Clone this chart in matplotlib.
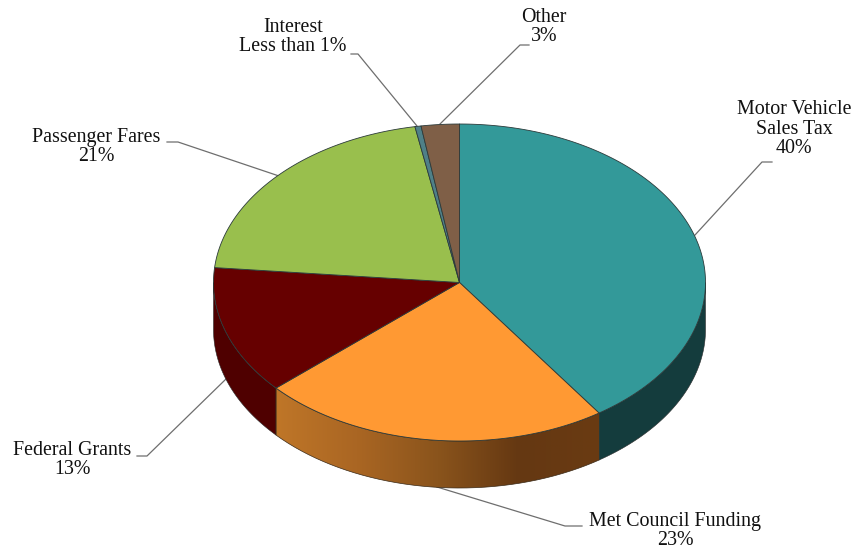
#!/usr/bin/env python
#coding:utf-8

import numpy as np
import matplotlib
matplotlib.use("Agg")
from matplotlib import pyplot as plt
from matplotlib.colors import LinearSegmentedColormap
from matplotlib.patches import Polygon

# revenue shares, clockwise from 12 o'clock
names = ["Motor Vehicle\nSales Tax", "Met Council Funding", "Federal Grants",
         "Passenger Fares", "Interest", "Other"]
shares = [40.4, 23.0, 13.1, 20.6, 0.4, 2.5]
pct_text = ["40%", "23%", "13%", "21%", "Less than 1%", "3%"]
top_colors = ["#339999", "#FF9933", "#660000", "#99BF4D", "#4F8088", "#7F5F47"]
side_colors = ["#143C3D", None, "#4F0000", "#5C7330", "#2F4D52", "#4C392B"]

# pie geometry in figure pixels
CX, CY = 459.5, 282.5
RX, RY = 246.0, 158.5
DEPTH = 47.0

# label text anchor + leader path
labels = [
    (794, 129, "center", [(695, 235), (762, 162), (772, 162)]),
    (675, 531, "center", [(437, 487), (565, 526), (582, 526)]),
    (72, 460, "center", [(226, 379), (147, 456), (137, 456)]),
    (96, 147, "center", [(279, 176), (178, 142), (167, 142)]),
    (293, 37, "center", [(417, 126), (358, 54), (351, 54)]),
    (544, 27, "center", [(440, 124), (520, 45), (529, 45)]),
]


def rim(a0, a1, n=200):
    t = np.radians(np.linspace(a0, a1, n))
    return CX + RX * np.sin(t), CY - RY * np.cos(t)


def main():
    plt.rcParams["font.family"] = ["Liberation Serif", "DejaVu Serif"]
    fig = plt.figure(figsize=(8.56, 5.54), dpi=100)
    ax = fig.add_axes([0, 0, 1, 1])
    ax.set_xlim(0, 856)
    ax.set_ylim(554, 0)
    ax.axis("off")

    edges = np.cumsum([0] + shares) / sum(shares) * 360.0

    # leader lines go under the pie
    for x, y, ha, path in labels:
        px, py = zip(*path)
        ax.plot(px, py, color="#6E6E6E", lw=0.9, zorder=1)

    # side wall, only the front half (90..270 deg) can be seen
    orange_map = LinearSegmentedColormap.from_list(
        "wall", ["#6A3B12", "#653812", "#8A541C", "#AA6623", "#BF7628"])
    for i in range(len(shares)):
        a0, a1 = max(edges[i], 90), min(edges[i + 1], 270)
        if a0 >= a1:
            continue
        x, y = rim(a0, a1)
        poly = np.vstack([np.column_stack([x, y]),
                          np.column_stack([x[::-1], y[::-1] + DEPTH])])
        if side_colors[i] is None:
            # shaded wall: gradient runs right to left across the wedge
            patch = Polygon(poly, closed=True, fc="none", ec="none", transform=ax.transData)
            ax.add_patch(patch)
            ramp = np.linspace(0, 1, 256).reshape(1, -1)
            img = ax.imshow(ramp[:, ::-1], cmap=orange_map, aspect="auto", zorder=2,
                            extent=(x.min(), x.max(), poly[:, 1].max(), poly[:, 1].min()))
            img.set_clip_path(patch)
            ax.plot(poly[:, 0], poly[:, 1], color="#3A2A18", lw=0.5, zorder=2.1)
        else:
            ax.add_patch(Polygon(poly, closed=True, fc=side_colors[i], ec="#2A2A2A",
                                 lw=0.4, zorder=2))
    ax.set_xlim(0, 856)
    ax.set_ylim(554, 0)

    # top face
    for i in range(len(shares)):
        x, y = rim(edges[i], edges[i + 1])
        pts = np.vstack([[CX, CY], np.column_stack([x, y])])
        ax.add_patch(Polygon(pts, closed=True, fc=top_colors[i], ec="#2B3A3A",
                             lw=0.6, zorder=3, joinstyle="round"))

    for i, (x, y, ha, path) in enumerate(labels):
        name = names[i]
        if name == "Interest":
            txt = name + "\n" + pct_text[i]
        else:
            txt = name + "\n" + pct_text[i]
        ax.text(x, y, txt, ha=ha, va="center", ma="center", fontsize=14.4,
                color="#111111", linespacing=1.05, zorder=4)

    fig.savefig("out.png", dpi=100, facecolor="white")


if __name__ == "__main__":
    main()
